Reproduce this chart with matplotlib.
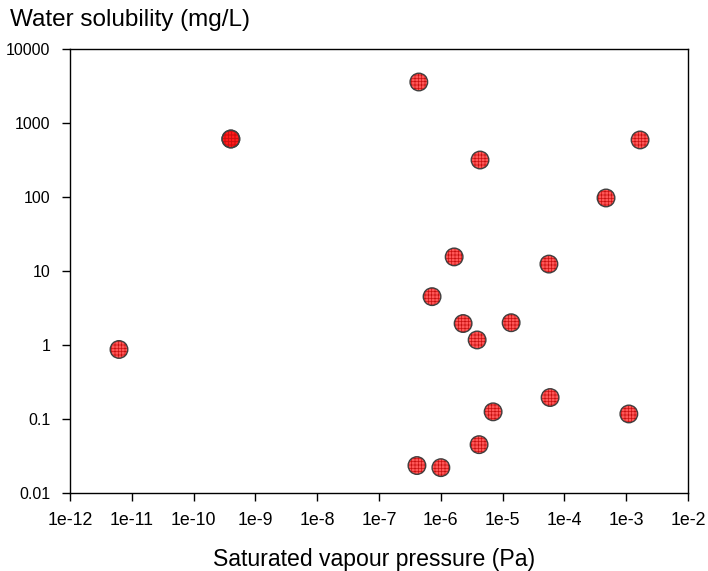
import matplotlib
matplotlib.use("Agg")
import matplotlib.pyplot as plt
import numpy as np

plt.rcParams['font.family'] = ['Liberation Sans', 'DejaVu Sans']
plt.rcParams['hatch.linewidth'] = 0.5

vapour_pressure = [6.2e-12, 4.0e-10, 4.0e-10, 4.4e-7, 4.3e-6, 1.67e-3, 4.7e-4, 1.64e-6,
                   5.6e-5, 7.2e-7, 2.29e-6, 1.37e-5, 3.86e-6, 5.85e-5, 1.1e-3,
                   7.0e-6, 4.15e-6, 4.1e-7, 1.0e-6]
water_solubility = [0.87, 608, 608, 3580, 316, 590, 97, 15.5,
                    12.4, 4.5, 1.95, 2.0, 1.17, 0.195, 0.117,
                    0.125, 0.045, 0.0235, 0.022]

xticks = [1e-12, 1e-11, 1e-10, 1e-9, 1e-8, 1e-7, 1e-6, 1e-5, 1e-4, 1e-3, 1e-2]
xticklabels = ['1e-12', '1e-11', '1e-10', '1e-9', '1e-8', '1e-7', '1e-6',
               '1e-5', '1e-4', '1e-3', '1e-2']
yticks = [0.01, 0.1, 1, 10, 100, 1000, 10000]
yticklabels = ['0.01', '0.1', '1', '10', '100', '1000', '10000']

fig = plt.figure(figsize=(7.08, 5.71), dpi=100)
ax = fig.add_axes([0.0989, 0.1366, 0.873, 0.7776])
ax.set_xscale('log')
ax.set_yscale('log')
ax.set_xlim(1e-12, 1e-2)
ax.set_ylim(0.01, 10000)

ax.scatter(vapour_pressure, water_solubility, s=160, facecolor=(1.0, 0.0, 0.0, 0.66),
           edgecolor='#c81010', hatch='+++++', linewidth=0, zorder=3)
ax.scatter(vapour_pressure, water_solubility, s=160, facecolor='none',
           edgecolor='#404040', linewidth=1.0, zorder=4)

ax.set_xticks(xticks)
ax.set_xticklabels(xticklabels)
ax.set_yticks(yticks)
ax.set_yticklabels(yticklabels)
ax.minorticks_off()
ax.tick_params(direction='out', length=6, width=1, pad=8)
ax.tick_params(axis='x', labelsize=12.8)
ax.tick_params(axis='y', labelsize=11.5)
for s in ax.spines.values():
    s.set_linewidth(1.0)

fig.text(0.014, 0.965, 'Water solubility (mg/L)', fontsize=17.5, ha='left', va='center')
fig.text(0.528, 0.021, 'Saturated vapour pressure (Pa)', fontsize=16.6, ha='center', va='center')

fig.savefig('out.png', dpi=100)
